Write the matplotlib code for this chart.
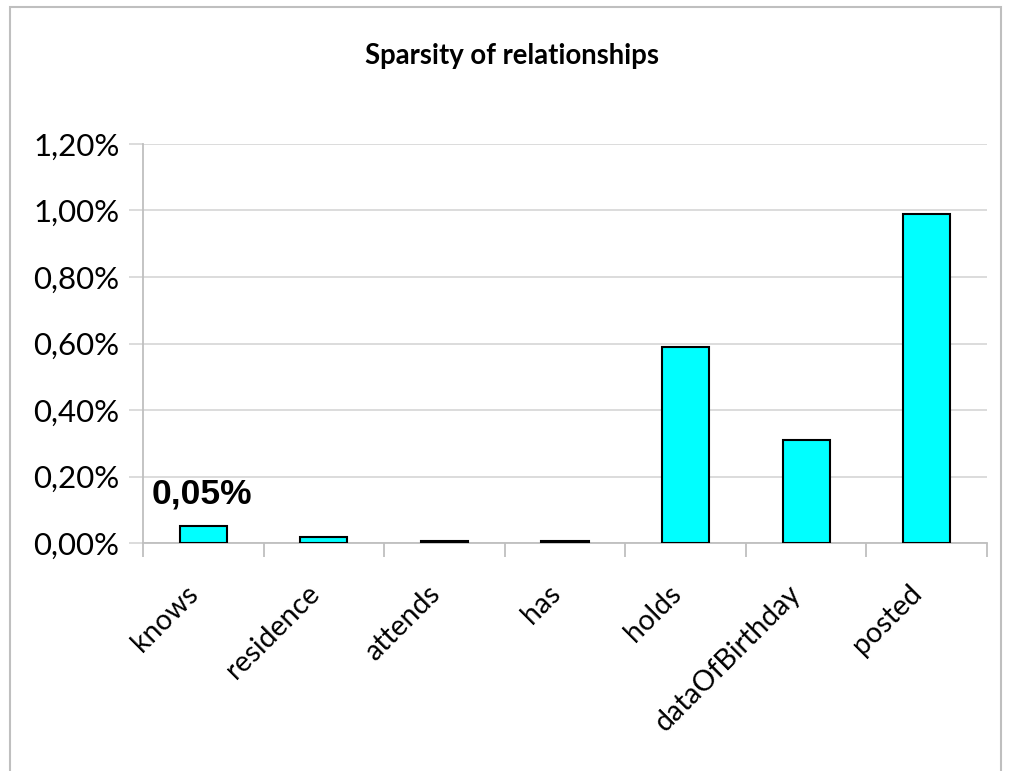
import matplotlib
matplotlib.use("Agg")
import matplotlib.pyplot as plt
from matplotlib.patches import Rectangle
from matplotlib.ticker import FuncFormatter, MultipleLocator

categories = ["knows", "residence", "attends", "has", "holds", "dataOfBirthday", "posted"]
sparsity_pct = [0.05, 0.018, 0.005, 0.005, 0.59, 0.31, 0.99]
highlight_idx = 0
highlight_label = "0,05%"

plt.rcParams["font.family"] = ["Lato", "DejaVu Sans"]

fig = plt.figure(figsize=(10.09, 7.71), dpi=100)
fig.patch.set_facecolor("white")

# outer chart frame
fig.patches.append(Rectangle((10 / 1009, -0.05), 991 / 1009, 1 - 7 / 771 + 0.05,
                             transform=fig.transFigure, fill=False,
                             edgecolor="#bfbfbf", linewidth=1.5))

ax = fig.add_axes([143 / 1009, 1 - 543 / 771, (987 - 143) / 1009, (543 - 144) / 771])
x = list(range(len(categories)))
ax.bar(x, sparsity_pct, width=0.39, color="#00ffff", edgecolor="black", linewidth=1.5, zorder=3)

ax.set_xlim(-0.5, len(categories) - 0.5)
ax.set_ylim(0, 1.2)
ax.yaxis.set_major_locator(MultipleLocator(0.2))
ax.yaxis.set_major_formatter(FuncFormatter(lambda v, _: f"{v:.2f}%".replace(".", ",")))
ax.grid(axis="y", color="#d9d9d9", linewidth=1.3, zorder=0)
ax.set_axisbelow(True)

for s in ["top", "right"]:
    ax.spines[s].set_visible(False)
ax.spines["left"].set_color("#bfbfbf")
ax.spines["bottom"].set_color("#bfbfbf")
ax.spines["left"].set_linewidth(1.3)
ax.spines["bottom"].set_linewidth(1.3)

ax.tick_params(axis="y", length=10, width=1.3, color="#d9d9d9", labelsize=22.5, pad=7)
ax.set_xticks([i - 0.5 for i in range(len(categories) + 1)])
ax.set_xticklabels([])
ax.tick_params(axis="x", length=10, width=1.3, color="#bfbfbf")

for i, name in enumerate(categories):
    ax.text(i - 0.15, -0.112, name, rotation=45, ha="right", va="top",
            rotation_mode="anchor", fontsize=20.5, transform=ax.transData)

ax.text(highlight_idx - 0.43, sparsity_pct[highlight_idx] + 0.07, highlight_label,
        fontsize=25.5, fontweight="bold", family=["Liberation Sans"], ha="left",
        va="baseline")

fig.text(512 / 1009, 1 - 56 / 771, "Sparsity of relationships", ha="center", va="center",
         fontsize=19.8, fontweight="bold")

fig.savefig("out.png", dpi=100)
